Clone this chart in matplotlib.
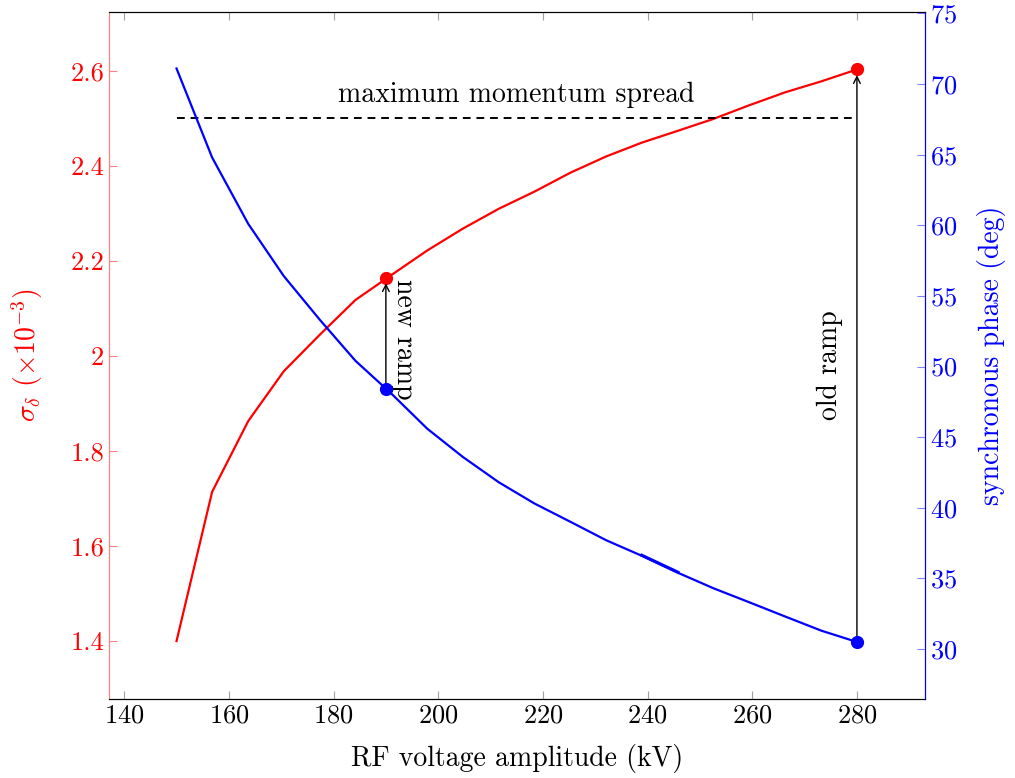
import matplotlib
matplotlib.use("Agg")
import matplotlib.pyplot as plt
from matplotlib.ticker import FuncFormatter

plt.rcParams['font.family'] = 'serif'
plt.rcParams['font.serif'] = ['cmr10']
plt.rcParams['mathtext.fontset'] = 'cm'
plt.rcParams['axes.formatter.use_mathtext'] = True
plt.rcParams['font.size'] = 20

# RF voltage (kV)
voltage = [150, 156.8, 163.7, 170.5, 177.4, 184.2, 191.0, 197.9, 204.7, 211.6,
           218.4, 225.3, 232.1, 238.9, 245.8, 252.6, 259.5, 266.3, 273.2, 280]
# momentum spread (x1e-3)
sigma_delta = [1.400, 1.714, 1.863, 1.968, 2.045, 2.118, 2.170, 2.222, 2.268, 2.310,
               2.346, 2.386, 2.420, 2.449, 2.474, 2.499, 2.528, 2.555, 2.578, 2.603]
# synchronous phase (deg)
sync_phase = [71.1, 64.8, 60.1, 56.4, 53.3, 50.4, 48.1, 45.6, 43.6, 41.8,
              40.3, 39.0, 37.7, 36.6, 35.4, 34.3, 33.3, 32.3, 31.3, 30.5]

max_spread = 2.5
new_ramp = (190, 2.165, 48.4)
old_ramp = (280, 2.603, 30.5)
# short overdrawn piece of the phase curve
blip_v = [238.9, 245.8]
blip_p = [36.64, 35.44]

fig = plt.figure(figsize=(10.15, 7.78), dpi=100)
ax = fig.add_axes([0.1074, 0.1015, 0.8039, 0.8831])
ax2 = ax.twinx()

ax.plot(voltage, sigma_delta, color='red', lw=1.6)
ax.plot([voltage[0], voltage[-1]], [max_spread, max_spread], 'k--', lw=1.4, dashes=(4, 3))
ax.text(215, 2.522, 'maximum momentum spread', ha='center', va='bottom')
ax.plot(new_ramp[0], new_ramp[1], 'o', color='red', ms=8.5)
ax.plot(old_ramp[0], old_ramp[1], 'o', color='red', ms=8.5)

ax2.plot(voltage, sync_phase, color='blue', lw=1.6)
ax2.plot(blip_v, blip_p, color='blue', lw=2.2)
ax2.plot(new_ramp[0], new_ramp[2], 'o', color='blue', ms=8.5)
ax2.plot(old_ramp[0], old_ramp[2], 'o', color='blue', ms=8.5)

ax.set_xlim(137.1, 293)
ax.set_ylim(1.278, 2.724)
ax2.set_ylim(26.46, 75.1)

# arrows in left-axis coordinates: convert phase to sigma scale
def phase_to_sigma(p):
    y0, y1 = ax2.get_ylim()
    s0, s1 = ax.get_ylim()
    return s0 + (p - y0) / (y1 - y0) * (s1 - s0)

for v, s, p in (new_ramp, old_ramp):
    ax.annotate('', xy=(v, s - 0.012), xytext=(v, phase_to_sigma(p)),
                arrowprops=dict(arrowstyle='->', color='black', lw=1.0,
                                shrinkA=0, shrinkB=0, mutation_scale=12))
ax.text(193.4, 2.035, 'new ramp', rotation=-90, ha='center', va='center')
ax.text(274.9, 1.98, 'old ramp', rotation=90, ha='center', va='center')

ax.set_xticks([140, 160, 180, 200, 220, 240, 260, 280])
ax.set_yticks([1.4, 1.6, 1.8, 2.0, 2.2, 2.4, 2.6])
ax.yaxis.set_major_formatter(FuncFormatter(lambda v, p: '%g' % v))
ax2.set_yticks(range(30, 80, 5))

ax.tick_params(axis='x', direction='in', top=True, length=6, color='#a0a0a0', labelsize=19)
ax.tick_params(axis='y', direction='in', length=6, color='#ff8080', labelcolor='red', labelsize=19)
ax2.tick_params(axis='y', direction='in', length=6, color='#8080ff', labelcolor='blue', labelsize=19)

ax.spines['left'].set_color('#ff8080')
ax2.spines['left'].set_color('#ff8080')
ax2.spines['right'].set_color('blue')
ax.spines['right'].set_color('blue')

ax.set_xlabel('RF voltage amplitude (kV)', labelpad=12)
ax.set_ylabel(r'$\sigma_\delta$ ($\times 10^{-3}$)', color='red', labelpad=18)
ax2.set_ylabel('synchronous phase (deg)', color='blue', labelpad=14)

fig.savefig('out.png', dpi=100)
